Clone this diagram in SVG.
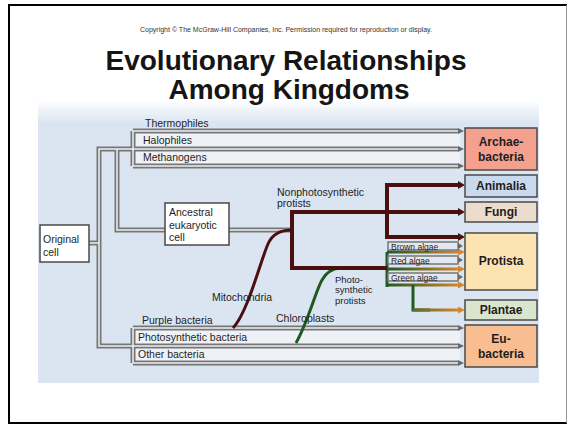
<svg xmlns="http://www.w3.org/2000/svg" width="568" height="427" viewBox="0 0 568 427">
<defs>
<style>
.lbl{font-family:"Liberation Sans",Arial,sans-serif;font-size:10.5px;fill:#1e1e1e}
.sm{font-size:9.5px}
.kg{font-family:"Liberation Sans",Arial,sans-serif;font-size:12px;font-weight:bold;fill:#1e1e1e;text-anchor:middle}
.ttl{font-family:"Liberation Sans",Arial,sans-serif;font-size:28px;font-weight:bold;fill:#151515;text-anchor:middle}
.to{fill:none;stroke:#767676;stroke-width:5}
.ti{fill:none;stroke:#eef1f5;stroke-width:1.5}
.br{fill:none;stroke:#4b0f10;stroke-width:4}
.gr{fill:none;stroke:#1f5a22;stroke-width:3}
.box{stroke:#4a4a4a;stroke-width:1.5}
.band{fill:#eef2f7}
</style>
<linearGradient id="pan" x1="0" y1="0" x2="0" y2="1">
<stop offset="0" stop-color="#ffffff"/>
<stop offset="0.08" stop-color="#dbe5f1"/>
<stop offset="1" stop-color="#dbe5f1"/>
</linearGradient>
<linearGradient id="go" gradientUnits="userSpaceOnUse" x1="387" y1="0" x2="460" y2="0">
<stop offset="0" stop-color="#1f5a22"/>
<stop offset="1" stop-color="#d8862c"/>
</linearGradient>
<marker id="ag" markerWidth="6" markerHeight="6" refX="0" refY="3" orient="auto" markerUnits="userSpaceOnUse"><path d="M0,0 L6,3 L0,6 z" fill="#6a6a6a"/></marker>
<marker id="ab" markerWidth="7" markerHeight="8" refX="0" refY="4" orient="auto" markerUnits="userSpaceOnUse"><path d="M0,0 L7,4 L0,8 z" fill="#4b0f10"/></marker>
<marker id="ao" markerWidth="7" markerHeight="7" refX="0" refY="3.5" orient="auto" markerUnits="userSpaceOnUse"><path d="M0,0 L7,3.5 L0,7 z" fill="#d8862c"/></marker>
</defs>
<rect x="0" y="0" width="568" height="427" fill="#ffffff"/>
<path d="M9,423 V5 H567" fill="none" stroke="#000" stroke-width="2"/>
<path d="M8,423 H567" fill="none" stroke="#000" stroke-width="2"/>
<path d="M566.5,5 V423" fill="none" stroke="#999" stroke-width="1"/>
<rect x="38" y="100" width="501" height="283" fill="url(#pan)"/>
<text x="286" y="32" font-family="Liberation Sans,Arial,sans-serif" font-size="7" fill="#333" text-anchor="middle">Copyright © The McGraw-Hill Companies, Inc. Permission required for reproduction or display.</text>
<text class="ttl" x="286" y="70">Evolutionary Relationships</text>
<text class="ttl" x="289" y="99">Among Kingdoms</text>

<g id="bands">
<rect class="band" x="133" y="131" width="327" height="18"/>
<rect class="band" x="133" y="149" width="327" height="17"/>
<rect class="band" x="133" y="328" width="327" height="18"/>
<rect class="band" x="133" y="346" width="327" height="17"/>
</g>

<g id="connectors">
<g class="to">
<path d="M89,243 H99"/>
<path d="M133,149 H99 V346 H133"/>
<path d="M117,149 V230 H165"/>
<path d="M229,230 H292"/>
<path d="M133,131 V166"/>
<path d="M133,131 H458" marker-end="url(#ag)"/>
<path d="M133,149 H458" marker-end="url(#ag)"/>
<path d="M133,166 H458" marker-end="url(#ag)"/>
<path d="M133,328 V363"/>
<path d="M133,328 H458" marker-end="url(#ag)"/>
<path d="M133,346 H458" marker-end="url(#ag)"/>
<path d="M133,363 H458" marker-end="url(#ag)"/>
</g>
<g class="ti">
<path d="M89,243 H99"/>
<path d="M133,149 H99 V346 H133"/>
<path d="M117,149 V230 H165"/>
<path d="M229,230 H292"/>
<path d="M133,131 V166"/>
<path d="M133,131 H458"/>
<path d="M133,149 H458"/>
<path d="M133,166 H458"/>
<path d="M133,328 V363"/>
<path d="M133,328 H458"/>
<path d="M133,346 H458"/>
<path d="M133,363 H458"/>
</g>
<path class="gr" d="M296,343 C308,322 316,290 322,280 Q328,269 340,268"/>
<path class="gr" d="M387,252 V287"/>
<path d="M387,252 H458" fill="none" stroke="url(#go)" stroke-width="3" marker-end="url(#ao)"/>
<path d="M387,269 H458" fill="none" stroke="url(#go)" stroke-width="3" marker-end="url(#ao)"/>
<path d="M387,285 H458" fill="none" stroke="url(#go)" stroke-width="3" marker-end="url(#ao)"/>
<path class="gr" d="M413,285 V310 H430"/>
<path d="M413,310 H458" fill="none" stroke="url(#go)" stroke-width="3" marker-end="url(#ao)"/>
<path class="br" style="stroke-width:3" d="M233,328 C248,312 260,262 268,244 Q274,230 292,230"/>
<path class="br" d="M292,268 V212"/>
<path class="br" d="M290,212 H458" marker-end="url(#ab)"/>
<path class="br" d="M290,268 H387"/>
<path class="br" d="M387,185 V239"/>
<path class="br" d="M385,185 H458" marker-end="url(#ab)"/>
<path class="br" d="M385,237 H458" marker-end="url(#ab)"/>
</g>

<g id="algae-labels">
<rect x="388" y="242" width="70" height="8" fill="#e3e7ee" stroke="#777" stroke-width="1.5"/>
<rect x="388" y="256" width="70" height="8" fill="#e3e7ee" stroke="#777" stroke-width="1.5"/>
<rect x="388" y="273" width="70" height="8" fill="#e3e7ee" stroke="#777" stroke-width="1.5"/>
<path d="M458,243 L463,246 L458,249 z M458,257 L463,260 L458,263 z M458,274 L463,277 L458,280 z" fill="#6a6a6a"/>
<text class="lbl" x="391" y="249.5" style="font-size:8.5px">Brown algae</text>
<text class="lbl" x="391" y="263.5" style="font-size:8.5px">Red algae</text>
<text class="lbl" x="391" y="280.5" style="font-size:8.5px">Green algae</text>
</g>

<g id="original-cell">
<rect class="box" x="40" y="225" width="49" height="37" fill="#ffffff"/>
<text class="lbl" x="43" y="243">Original</text>
<text class="lbl" x="43" y="256">cell</text>
</g>
<g id="ancestral-eukaryotic-cell">
<rect class="box" x="165" y="203" width="64" height="42" fill="#ffffff"/>
<text class="lbl" x="169" y="216">Ancestral</text>
<text class="lbl" x="169" y="229">eukaryotic</text>
<text class="lbl" x="169" y="241">cell</text>
</g>
<g id="archaea-labels">
<text class="lbl" x="145" y="127">Thermophiles</text>
<text class="lbl" x="143" y="144">Halophiles</text>
<text class="lbl" x="143" y="161">Methanogens</text>
</g>
<g id="bacteria-labels">
<text class="lbl" x="142" y="324">Purple bacteria</text>
<text class="lbl" x="138" y="341">Photosynthetic bacteria</text>
<text class="lbl" x="138" y="358">Other bacteria</text>
</g>
<g id="protist-labels">
<text class="lbl" x="277" y="196">Nonphotosynthetic</text>
<text class="lbl" x="277" y="207">protists</text>
<text class="lbl sm" x="335" y="283">Photo-</text>
<text class="lbl sm" x="335" y="293">synthetic</text>
<text class="lbl sm" x="335" y="304">protists</text>
<text class="lbl" x="212" y="301">Mitochondria</text>
<text class="lbl" x="276" y="322">Chloroplasts</text>
</g>

<g id="archaebacteria">
<rect class="box" x="465" y="128" width="72" height="42" fill="#f4a08e"/>
<text class="kg" x="501" y="146">Archae-</text>
<text class="kg" x="501" y="161">bacteria</text>
</g>
<g id="animalia">
<rect class="box" x="465" y="175" width="72" height="22" fill="#c9daee"/>
<text class="kg" x="501" y="190">Animalia</text>
</g>
<g id="fungi">
<rect class="box" x="465" y="202" width="72" height="20" fill="#ecdccb"/>
<text class="kg" x="501" y="216">Fungi</text>
</g>
<g id="protista">
<rect class="box" x="465" y="233" width="72" height="57" fill="#fde2b2"/>
<text class="kg" x="501" y="265">Protista</text>
</g>
<g id="plantae">
<rect class="box" x="465" y="300" width="72" height="20" fill="#d9e5cc"/>
<text class="kg" x="501" y="314">Plantae</text>
</g>
<g id="eubacteria">
<rect class="box" x="465" y="325" width="72" height="42" fill="#f8bd90"/>
<text class="kg" x="501" y="343">Eu-</text>
<text class="kg" x="501" y="358">bacteria</text>
</g>
</svg>
